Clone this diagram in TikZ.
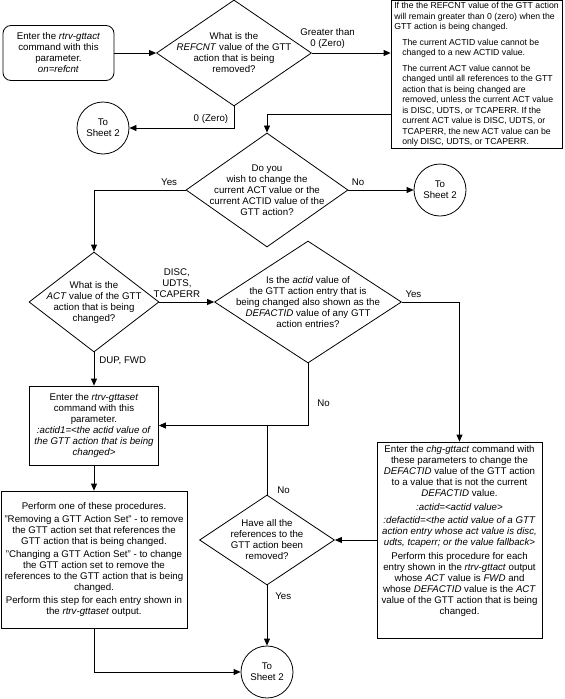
\documentclass[tikz,border=0pt]{standalone}
\usepackage{fontspec}
\setmainfont{Liberation Sans}
\usetikzlibrary{arrows.meta, shapes.geometric}

\begin{document}
\begin{tikzpicture}[
    x=1pt, y=-1pt,
    every node/.style={font=\fontsize{9.7}{11}\selectfont},
    box/.style={draw, line width=0.8pt, align=center, inner sep=1pt},
    startbox/.style={box, rounded corners=8pt},
    notebox/.style={box, align=left, font=\fontsize{8.7}{10.5}\selectfont},
    decision/.style={draw, line width=0.8pt, diamond, inner sep=0pt},
    dtext/.style={align=center, inner sep=0pt},
    sheet/.style={draw, line width=0.8pt, circle, minimum size=52pt,
      inner sep=0pt, align=center},
    lbl/.style={align=center, inner sep=1pt},
    arr/.style={-{Triangle[length=7pt, width=6pt]}, line width=0.8pt},
    conn/.style={line width=0.8pt},
  ]
    \useasboundingbox (0,0) rectangle (565,699);

    % --- REFCNT check ---
    \node[startbox, minimum width=111pt, minimum height=55pt] (start) at (58.5,53)
      {Enter the \textit{rtrv-gttact}\\command with this\\parameter.\\\textit{on=refcnt}};
    \node[decision, minimum width=155pt, minimum height=106pt] (refcnt) at (234,53) {};
    \node[dtext] (refcnt-t) at (refcnt)
      {What is the\\\textit{REFCNT} value of the GTT\\action that is being\\removed?};
    \node[sheet] (sheetA) at (103,128) {To\\Sheet 2};
    \node[notebox, minimum width=171pt, minimum height=148pt] (note) at (476.5,74.5)
      {If the the REFCNT value of the GTT action\\
       will remain greater than 0 (zero) when the\\
       GTT action is being changed.\\[5pt]
       \hspace*{8pt}The current ACTID value cannot be\\
       \hspace*{8pt}changed to a new ACTID value.\\[5pt]
       \hspace*{8pt}The current ACT value cannot be\\
       \hspace*{8pt}changed until all references to the GTT\\
       \hspace*{8pt}action that is being changed are\\
       \hspace*{8pt}removed, unless the current ACT value\\
       \hspace*{8pt}is DISC, UDTS, or TCAPERR. If the\\
       \hspace*{8pt}current ACT value is DISC, UDTS, or\\
       \hspace*{8pt}TCAPERR, the new ACT value can be\\
       \hspace*{8pt}only DISC, UDTS, or TCAPERR.};

    % --- Change decision ---
    \node[decision, minimum width=162pt, minimum height=114pt] (change) at (267,190) {};
    \node[dtext] (change-t) at (change)
      {Do you\\wish to change the\\current ACT value or the\\current ACTID value of the\\GTT action?};
    \node[sheet] (sheetB) at (440,190) {To\\Sheet 2};

    % --- ACT / DEFACTID decisions ---
    \node[decision, minimum width=130pt, minimum height=100pt] (act) at (94,302) {};
    \node[dtext] (act-t) at (act)
      {What is the\\\textit{ACT} value of the GTT\\action that is being\\changed?};
    \node[decision, minimum width=187pt, minimum height=122pt] (defact) at (308,302) {};
    \node[dtext] (defact-t) at (defact)
      {Is the \textit{actid} value of\\the GTT action entry that is\\being changed also shown as the\\\textit{DEFACTID} value of any GTT\\action entries?};

    % --- Procedures ---
    \node[box, minimum width=129pt, minimum height=79pt] (gttaset) at (94,425.5)
      {Enter the \textit{rtrv-gttaset}\\command with this\\parameter.\\
       \textit{:actid1=<the actid value of}\\\textit{the GTT action that is being}\\\textit{changed>}};
    \node[box, minimum width=186pt, minimum height=137pt] (procs) at (94,559.5)
      {Perform one of these procedures.\\[2pt]
       "Removing a GTT Action Set" - to remove\\the GTT action set that references the\\GTT action that is being changed.\\[2pt]
       "Changing a GTT Action Set" - to change\\the GTT action set to remove the\\references to the GTT action that is being\\changed.\\[2pt]
       Perform this step for each entry shown in\\the \textit{rtrv-gttaset} output.};
    \node[box, minimum width=165pt, minimum height=196pt] (chg) at (459.5,540) {};
    \node[dtext, anchor=north] (chg-t) at ([yshift=-4pt]chg.north)
      {Enter the \textit{chg-gttact} command with\\these parameters to change the\\
       \textit{DEFACTID} value of the GTT action\\to a value that is not the current\\\textit{DEFACTID} value.\\[2.5pt]
       \textit{:actid=<actid value>}\\[2.5pt]
       \textit{:defactid=<the actid value of a GTT}\\\textit{action entry whose act value is disc,}\\
       \textit{udts, tcaperr; or the value fallback>}\\[2.5pt]
       Perform this procedure for each\\entry shown in the \textit{rtrv-gttact} output\\
       whose \textit{ACT} value is \textit{FWD} and\\whose \textit{DEFACTID} value is the \textit{ACT}\\
       value of the GTT action that is being\\changed.};
    \node[decision, minimum width=135pt, minimum height=90pt] (removed) at (267,540) {};
    \node[dtext] (removed-t) at (removed)
      {Have all the\\references to the\\GTT action been\\removed?};
    \node[sheet] (sheetC) at (267,672) {To\\Sheet 2};

    % --- Arrows ---
    \draw[arr] (start) -- (refcnt);
    \draw[arr] (refcnt.east) -- node[lbl, above=3pt, pos=0.2] (gt-lbl) {Greater than\\0 (Zero)}
      (refcnt.east -| note.west);
    \draw[arr] (refcnt) |- node[lbl, above=3pt, pos=0.61] (zero-lbl) {0 (Zero)} (sheetA);
    \draw[arr] ([yshift=-40pt]note.west) -| (change);
    \draw[arr] (change) -- node[lbl, above=3pt, pos=0.15] (no1-lbl) {No} (sheetB);
    \draw[arr] (change) -| node[lbl, above=3pt, pos=0.09] (yes1-lbl) {Yes} (act);
    \draw[arr] (act) -- node[lbl, above=3pt, pos=0.32] (disc-lbl) {DISC,\\UDTS,\\TCAPERR} (defact);
    \draw[arr] (act) -- node[lbl, right=4pt, pos=0.25] (dup-lbl) {DUP, FWD} (gttaset);
    \draw[arr] (defact) -| node[lbl, above=3pt, pos=0.1] (yes2-lbl) {Yes} (chg);
    \draw[arr] (defact) |- node[lbl, right=8pt, pos=0.32] (no2-lbl) {No} (gttaset);
    \draw[conn] (removed) -- node[lbl, right=9pt, pos=0.07] (no3-lbl) {No} (removed |- gttaset);
    \draw[arr] (chg) -- (removed);
    \draw[arr] (removed) -- node[lbl, right=7pt, pos=0.18] (yes3-lbl) {Yes} (sheetC);
    \draw[arr] (gttaset) -- (procs);
    \draw[arr] (procs) |- (sheetC);
  \end{tikzpicture}
\end{document}
